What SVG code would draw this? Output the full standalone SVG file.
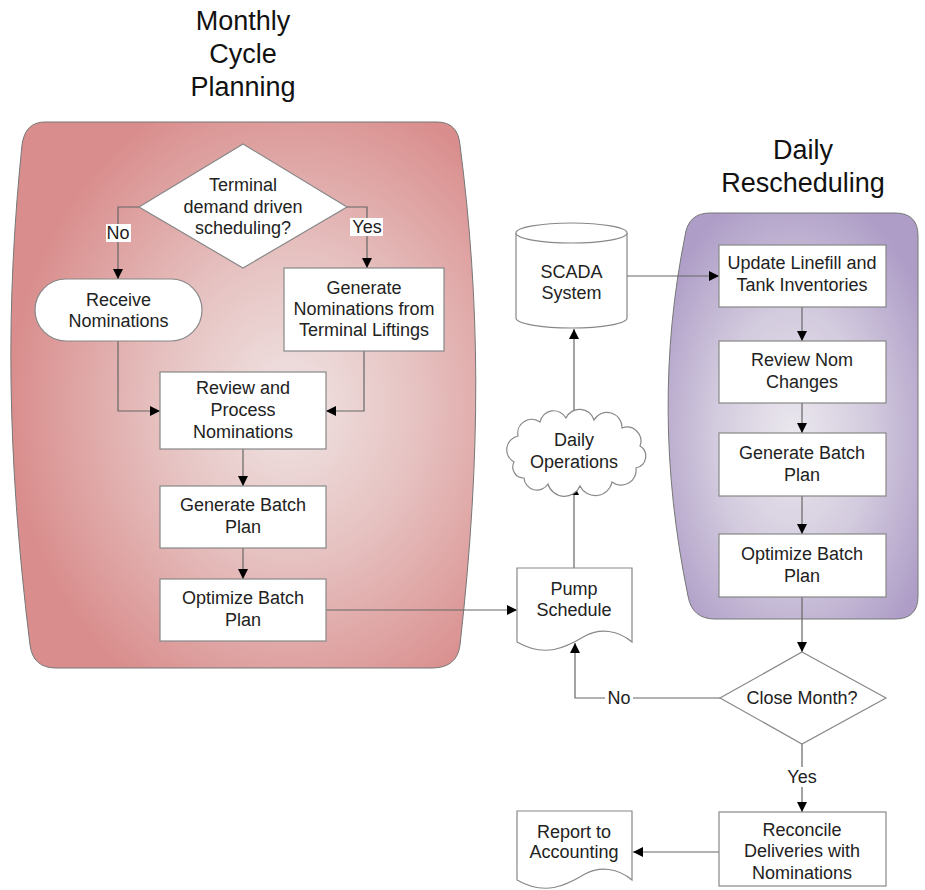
<svg xmlns="http://www.w3.org/2000/svg" width="925" height="890" viewBox="0 0 925 890">
<defs>
  <radialGradient id="gRed" cx="0.6" cy="0.52" r="0.6">
    <stop offset="0" stop-color="#f0e4e4"/>
    <stop offset="0.45" stop-color="#e6c3c2"/>
    <stop offset="1" stop-color="#d98e8d"/>
  </radialGradient>
  <radialGradient id="gPurple" cx="0.5" cy="0.55" r="0.62">
    <stop offset="0" stop-color="#ebe8ee"/>
    <stop offset="0.5" stop-color="#d3cbde"/>
    <stop offset="1" stop-color="#ae9dc7"/>
  </radialGradient>
  <marker id="arr" viewBox="0 0 10 10" refX="10" refY="5" markerWidth="10" markerHeight="10" markerUnits="userSpaceOnUse" orient="auto">
    <path d="M0,0 L10,5 L0,10 Z" fill="#000"/>
  </marker>
  <style>
    .panel{stroke:#777;stroke-width:1}
    .box{fill:#fff;stroke:#888;stroke-width:1.2}
    .t{font-family:"Liberation Sans",Arial,sans-serif;font-size:18px;fill:#222;text-anchor:middle}
    .title{font-family:"Liberation Sans",Arial,sans-serif;font-size:27px;fill:#111;text-anchor:middle}
    .c{fill:none;stroke:#666;stroke-width:1.2}
    .ca{fill:none;stroke:#666;stroke-width:1.2;marker-end:url(#arr)}
    .lblbg{fill:#fff}
  </style>
</defs>
<rect width="925" height="890" fill="#fff"/>

<g id="titles">
  <text class="title" x="243" y="30">Monthly</text>
  <text class="title" x="243" y="63">Cycle</text>
  <text class="title" x="243" y="96">Planning</text>
  <text class="title" x="803" y="159">Daily</text>
  <text class="title" x="803" y="192">Rescheduling</text>
</g>

<g id="panel-monthly">
  <path class="panel" fill="url(#gRed)" d="M45,122 H437 Q458,122 460,145 C480,300 482,450 460,645 Q457,668 432,668 H56 Q33,668 30,645 C6,450 6,300 22,145 Q25,122 45,122 Z"/>
</g>
<g id="panel-daily">
  <path class="panel" fill="url(#gPurple)" d="M710,213 H895 Q918,213 918,236 V596 Q918,619 895,619 H715 Q692,619 688,596 C662,470 662,350 685,236 Q688,213 710,213 Z"/>
</g>

<g id="connectors">
  <path class="ca" d="M139,207 H118 V279"/>
  <path class="ca" d="M347,207 H367 V268"/>
  <path class="ca" d="M118,341 V411 H160"/>
  <path class="ca" d="M364,351 V411 H326"/>
  <path class="ca" d="M243,449 V486"/>
  <path class="ca" d="M243,548 V579"/>
  <path class="ca" d="M326,610 H517"/>
  <path class="ca" d="M574,568 V485"/>
  <path class="ca" d="M574,419 V329"/>
  <path class="ca" d="M627,276 H719"/>
  <path class="ca" d="M802,307 V341"/>
  <path class="ca" d="M802,403 V433"/>
  <path class="ca" d="M802,496 V534"/>
  <path class="ca" d="M802,597 V652"/>
  <path class="ca" d="M720,698 H575 V643"/>
  <path class="ca" d="M802,744 V812"/>
  <path class="ca" d="M719,852 H633"/>
  <rect class="lblbg" x="106" y="224" width="25" height="18"/>
  <text class="t" x="118" y="239">No</text>
  <rect class="lblbg" x="350" y="218" width="33" height="18"/>
  <text class="t" x="367" y="233">Yes</text>
  <rect class="lblbg" x="605" y="689" width="28" height="18"/>
  <text class="t" x="619" y="704">No</text>
  <rect class="lblbg" x="786" y="767" width="33" height="20"/>
  <text class="t" x="802" y="783">Yes</text>
</g>

<g id="n-terminal-demand">
  <path class="box" d="M243,144 L347,207 L243,268 L139,207 Z"/>
  <text class="t" x="243" y="191">Terminal</text>
  <text class="t" x="243" y="213">demand driven</text>
  <text class="t" x="243" y="234">scheduling?</text>
</g>
<g id="n-receive-nominations">
  <rect class="box" x="35" y="279" width="167" height="62" rx="31"/>
  <text class="t" x="118.5" y="306">Receive</text>
  <text class="t" x="118.5" y="327">Nominations</text>
</g>
<g id="n-generate-nominations">
  <rect class="box" x="284" y="268" width="160" height="83"/>
  <text class="t" x="364" y="294">Generate</text>
  <text class="t" x="364" y="315">Nominations from</text>
  <text class="t" x="364" y="336">Terminal Liftings</text>
</g>
<g id="n-review-process">
  <rect class="box" x="160" y="372" width="166" height="77"/>
  <text class="t" x="243" y="394">Review and</text>
  <text class="t" x="243" y="416">Process</text>
  <text class="t" x="243" y="438">Nominations</text>
</g>
<g id="n-generate-batch-1">
  <rect class="box" x="160" y="486" width="166" height="62"/>
  <text class="t" x="243" y="511">Generate Batch</text>
  <text class="t" x="243" y="533">Plan</text>
</g>
<g id="n-optimize-batch-1">
  <rect class="box" x="160" y="579" width="166" height="62"/>
  <text class="t" x="243" y="604">Optimize Batch</text>
  <text class="t" x="243" y="626">Plan</text>
</g>

<g id="n-pump-schedule">
  <path class="box" d="M517,568 H632 V642 C618,630 600,628 585,636 C565,648 545,658 517,642 Z"/>
  <text class="t" x="574" y="595">Pump</text>
  <text class="t" x="574" y="616">Schedule</text>
</g>
<g id="n-daily-operations">
  <path class="box" d="M514,462 A14,14 0 0 1 518,436 A14,14 0 0 1 540,422 A14,14 0 0 1 566,418 A15,15 0 0 1 594,420 A15,15 0 0 1 622,428 A14,14 0 0 1 640,446 A12,12 0 0 1 636,468 A15,15 0 0 1 612,482 A17,17 0 0 1 580,486 A17,17 0 0 1 548,484 A13,13 0 0 1 524,478 A11,11 0 0 1 514,462 Z"/>
  <text class="t" x="574" y="446">Daily</text>
  <text class="t" x="574" y="468">Operations</text>
</g>
<g id="n-scada">
  <path class="box" d="M516,233 V318 A55.5,10 0 0 0 627,318 V233"/>
  <ellipse class="box" cx="571.5" cy="233" rx="55.5" ry="10"/>
  <text class="t" x="571.5" y="278">SCADA</text>
  <text class="t" x="571.5" y="299">System</text>
</g>

<g id="n-update-linefill">
  <rect class="box" x="719" y="245" width="167" height="62"/>
  <text class="t" x="802" y="269">Update Linefill and</text>
  <text class="t" x="802" y="291">Tank Inventories</text>
</g>
<g id="n-review-nom">
  <rect class="box" x="719" y="341" width="167" height="62"/>
  <text class="t" x="802" y="366">Review Nom</text>
  <text class="t" x="802" y="388">Changes</text>
</g>
<g id="n-generate-batch-2">
  <rect class="box" x="719" y="433" width="167" height="63"/>
  <text class="t" x="802" y="459">Generate Batch</text>
  <text class="t" x="802" y="481">Plan</text>
</g>
<g id="n-optimize-batch-2">
  <rect class="box" x="719" y="534" width="167" height="63"/>
  <text class="t" x="802" y="560">Optimize Batch</text>
  <text class="t" x="802" y="582">Plan</text>
</g>
<g id="n-close-month">
  <path class="box" d="M802,652 L886,698 L802,744 L720,698 Z"/>
  <text class="t" x="802" y="704">Close Month?</text>
</g>
<g id="n-reconcile">
  <rect class="box" x="719" y="812" width="167" height="74"/>
  <text class="t" x="802" y="836">Reconcile</text>
  <text class="t" x="802" y="857">Deliveries with</text>
  <text class="t" x="802" y="879">Nominations</text>
</g>
<g id="n-report">
  <path class="box" d="M517,811 H632 V880 C618,868 600,866 585,874 C565,886 545,896 517,880 Z"/>
  <text class="t" x="574" y="838">Report to</text>
  <text class="t" x="574" y="858">Accounting</text>
</g>
</svg>
